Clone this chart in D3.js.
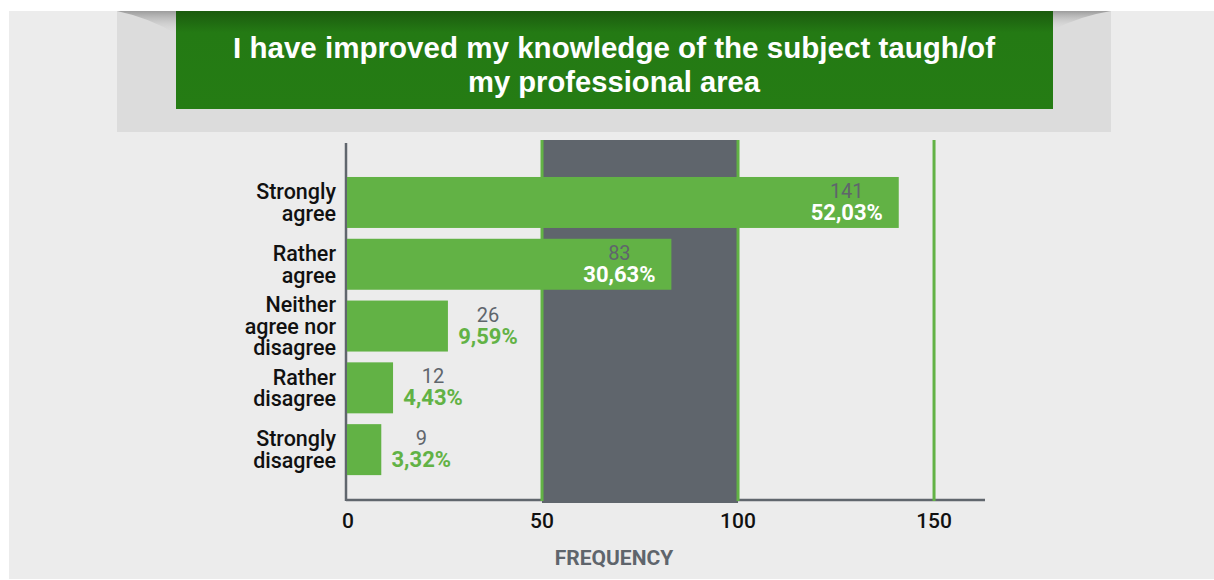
<!DOCTYPE html>
<html><head><meta charset="utf-8">
<script src="https://cdn.jsdelivr.net/npm/d3@7"></script>
<style>
html,body{margin:0;padding:0;background:#fff;}
svg{display:block;}
</style></head>
<body>
<svg id="chart" width="1214" height="580"></svg>
<script>
const titleLines = ["I have improved my knowledge of the subject taugh/of", "my professional area"];
const categories = ["Strongly agree", "Rather agree", "Neither agree nor disagree", "Rather disagree", "Strongly disagree"];
const categoryLines = [["Strongly","agree"],["Rather","agree"],["Neither","agree nor","disagree"],["Rather","disagree"],["Strongly","disagree"]];
const counts = [141, 83, 26, 12, 9];
const percents = ["52,03%", "30,63%", "9,59%", "4,43%", "3,32%"];
const ticks = [0, 50, 100, 150];
const bandRange = [50, 100];
const axisTitle = "FREQUENCY";

const svg = d3.select("#chart");
const defs = svg.append("defs");

// backgrounds
svg.append("rect").attr("x",9).attr("y",11).attr("width",1205).attr("height",568).attr("fill","#ececec");
svg.append("rect").attr("x",117).attr("y",11).attr("width",994).attr("height",121).attr("fill","#dcdcdc");

// corner curl shadows
const sh = defs.append("linearGradient").attr("id","shad").attr("x1",0).attr("y1",0).attr("x2",0).attr("y2",1);
sh.append("stop").attr("offset","0%").attr("stop-color","#9c9c9c");
sh.append("stop").attr("offset","100%").attr("stop-color","#dcdcdc").attr("stop-opacity",0);
svg.append("path").attr("d","M117,11 L176,11 L176,34 Q150,18 117,11 Z").attr("fill","url(#shad)");
svg.append("path").attr("d","M1111,11 L1053,11 L1053,30 Q1080,16 1111,11 Z").attr("fill","url(#shad)");

const gg = defs.append("linearGradient").attr("id","gg").attr("x1",0).attr("y1",0).attr("x2",0).attr("y2",1);
gg.append("stop").attr("offset","0%").attr("stop-color","#1b5a0e");
gg.append("stop").attr("offset","22%").attr("stop-color","#247a14");
gg.append("stop").attr("offset","100%").attr("stop-color","#257c14");
svg.append("rect").attr("x",176).attr("y",11).attr("width",877).attr("height",98).attr("fill","url(#gg)");

const titleWidths = [762, 292];
svg.selectAll("text.title").data(titleLines).join("text")
  .attr("class","title")
  .attr("x",614).attr("y",(d,i)=>58+i*34)
  .attr("text-anchor","middle")
  .attr("font-family","'Liberation Sans Narrow','Arial Narrow','Liberation Sans',sans-serif")
  .attr("font-weight","bold").attr("font-size",30)
  .attr("fill","#ffffff")
  .attr("textLength",(d,i)=>titleWidths[i]).attr("lengthAdjust","spacingAndGlyphs")
  .text(d=>d);

// scales
const x = d3.scaleLinear().domain([0, 163]).range([346, 985]);
const y = d3.scaleBand().domain(categories).range([170.8, 481.3]).paddingInner(0.175).paddingOuter(0.1);

const plotTop = 140, plotBottom = 501;

// x axis line
svg.append("line").attr("x1",346).attr("x2",985).attr("y1",500).attr("y2",500)
  .attr("stroke","#60666d").attr("stroke-width",2.5);

// gray band
svg.append("rect").attr("x",x(bandRange[0])).attr("y",plotTop)
  .attr("width",x(bandRange[1])-x(bandRange[0])).attr("height",plotBottom+2-plotTop)
  .attr("fill","#5f656c");

// grid lines
svg.selectAll("line.grid").data(ticks.filter(t=>t>0)).join("line")
  .attr("class","grid")
  .attr("x1",d=>x(d)).attr("x2",d=>x(d)).attr("y1",plotTop).attr("y2",plotBottom)
  .attr("stroke","#62b245").attr("stroke-width",3);

// y axis line
svg.append("line").attr("x1",346).attr("x2",346).attr("y1",143).attr("y2",501)
  .attr("stroke","#60666d").attr("stroke-width",2.5);

// bars
svg.selectAll("rect.bar").data(categories).join("rect")
  .attr("class","bar")
  .attr("x",x(0)+1).attr("y",d=>y(d))
  .attr("width",(d,i)=>x(counts[i])-x(0)-1).attr("height",y.bandwidth())
  .attr("fill","#62b245");

const font = "Roboto, 'DejaVu Sans', sans-serif";

// value labels
categories.forEach((c,i)=>{
  const inside = counts[i] > 50;
  const cx = inside ? x(counts[i]) - 52 : x(counts[i]) + 40;
  const cy = y(c) + y.bandwidth()/2;
  svg.append("text").attr("x",cx).attr("y",cy-4.5).attr("text-anchor","middle")
    .attr("font-family",font).attr("font-size",20).attr("fill","#5f656c")
    .text(counts[i]);
  svg.append("text").attr("x",cx).attr("y",cy+17.5).attr("text-anchor","middle")
    .attr("font-family",font).attr("font-size",22).attr("font-weight","bold")
    .attr("fill", inside ? "#ffffff" : "#62b245")
    .text(percents[i]);
});

// category labels
categories.forEach((c,i)=>{
  const lines = categoryLines[i];
  const cy = y(c) + y.bandwidth()/2;
  const lh = 21.5;
  const t = svg.append("text").attr("text-anchor","end")
    .attr("font-family",font).attr("font-size",21.5).attr("font-weight",500).attr("fill","#111111");
  lines.forEach((l,j)=>{
    t.append("tspan").attr("x",336).attr("y",cy + (j-(lines.length-1)/2)*lh + 7.5).text(l);
  });
});

// tick labels
svg.selectAll("text.tick").data(ticks).join("text")
  .attr("class","tick")
  .attr("x",d=>x(d)+(d===0?2:0)).attr("y",528).attr("text-anchor","middle")
  .attr("font-family",font).attr("font-size",21).attr("font-weight",500).attr("fill","#111111")
  .text(d=>d);

svg.append("text").attr("x",614).attr("y",565).attr("text-anchor","middle")
  .attr("font-family",font).attr("font-size",21).attr("font-weight","bold").attr("fill","#5f656c")
  .text(axisTitle);
</script>
</body></html>
